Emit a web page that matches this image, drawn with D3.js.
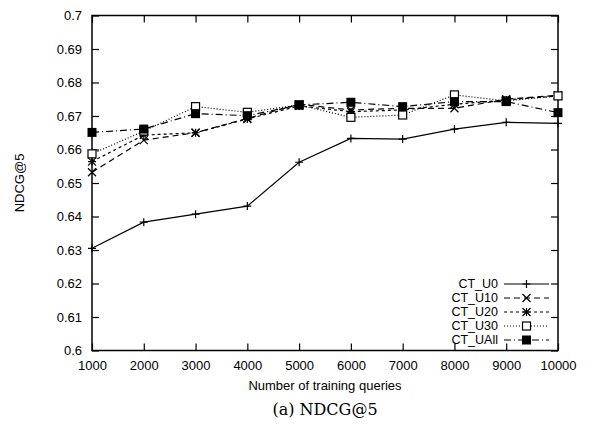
<!DOCTYPE html>
<html>
<head>
<meta charset="utf-8">
<script src="https://cdn.jsdelivr.net/npm/d3@7/dist/d3.min.js"></script>
<style>
  body { margin: 0; background: #fff; }
  text { font-family: "Liberation Sans", Arial, sans-serif; fill: #000; }
</style>
</head>
<body>
<svg id="chart" width="613" height="432"></svg>
<script>
const queries = [1000, 2000, 3000, 4000, 5000, 6000, 7000, 8000, 9000, 10000];
const ctU0   = [0.6305, 0.6383, 0.6407, 0.6431, 0.6562, 0.6633, 0.6631, 0.6661, 0.6681, 0.6678];
const ctU10  = [0.6532, 0.6628, 0.6650, 0.6693, 0.6735, 0.6718, 0.6723, 0.6723, 0.6750, 0.6762];
const ctU20  = [0.6564, 0.6643, 0.6650, 0.6691, 0.6730, 0.6713, 0.6718, 0.6735, 0.6748, 0.6760];
const ctU30  = [0.6587, 0.6655, 0.6728, 0.6711, 0.6733, 0.6696, 0.6703, 0.6763, 0.6745, 0.6760];
const ctUAll = [0.6651, 0.6661, 0.6707, 0.6701, 0.6733, 0.6741, 0.6728, 0.6743, 0.6743, 0.6710];
const yTicks = [0.6, 0.61, 0.62, 0.63, 0.64, 0.65, 0.66, 0.67, 0.68, 0.69, 0.7];

const series = [
  {name: "CT_U0",   values: ctU0,   dash: null,      marker: "plus"},
  {name: "CT_U10",  values: ctU10,  dash: "6,4",     marker: "cross"},
  {name: "CT_U20",  values: ctU20,  dash: "3,3",     marker: "star"},
  {name: "CT_U30",  values: ctU30,  dash: "1,2",     marker: "box"},
  {name: "CT_UAll", values: ctUAll, dash: "7,3,1,3", marker: "fbox"}
];

const plotL = 92, plotR = 558, plotT = 15.5, plotB = 350.5;
const svg = d3.select("#chart");

const x = d3.scaleLinear().domain([1000, 10000]).range([plotL, plotR]);
const y = d3.scaleLinear().domain([0.6, 0.7]).range([plotB, plotT]);

// ticks on all four sides, pointing inward
svg.append("g").attr("transform", `translate(0,${plotB})`)
  .call(d3.axisBottom(x).tickValues(queries).tickSize(-7).tickPadding(10).tickFormat(d3.format("d")));
svg.append("g").attr("transform", `translate(0,${plotT})`)
  .call(d3.axisTop(x).tickValues(queries).tickSize(-7).tickFormat(""));
svg.append("g").attr("transform", `translate(${plotL},0)`)
  .call(d3.axisLeft(y).tickValues(yTicks).tickSize(-7).tickPadding(10).tickFormat(d => String(+d.toFixed(2))));
svg.append("g").attr("transform", `translate(${plotR},0)`)
  .call(d3.axisRight(y).tickValues(yTicks).tickSize(-7).tickFormat(""));

svg.selectAll(".domain").remove();
svg.selectAll(".tick line").attr("stroke", "#000").attr("stroke-width", 1.2);
svg.selectAll(".tick text").style("font-size", "13px").attr("fill", "#000");

svg.append("rect")
  .attr("x", plotL).attr("y", plotT)
  .attr("width", plotR - plotL).attr("height", plotB - plotT)
  .attr("fill", "none").attr("stroke", "#000").attr("stroke-width", 1.5);

function drawMarker(g, kind, cx, cy) {
  const s = 4;
  if (kind === "plus" || kind === "star") {
    g.append("path").attr("d", `M${cx - s},${cy}H${cx + s}M${cx},${cy - s}V${cy + s}`)
      .attr("stroke", "#000").attr("stroke-width", 1.2).attr("fill", "none");
  }
  if (kind === "cross" || kind === "star") {
    g.append("path").attr("d", `M${cx - s},${cy - s}L${cx + s},${cy + s}M${cx - s},${cy + s}L${cx + s},${cy - s}`)
      .attr("stroke", "#000").attr("stroke-width", 1.2).attr("fill", "none");
  }
  if (kind === "box") {
    g.append("rect").attr("x", cx - 4).attr("y", cy - 4).attr("width", 8).attr("height", 8)
      .attr("fill", "#fff").attr("stroke", "#000").attr("stroke-width", 1.2);
  }
  if (kind === "fbox") {
    g.append("rect").attr("x", cx - 4.5).attr("y", cy - 4.5).attr("width", 9).attr("height", 9)
      .attr("fill", "#000");
  }
}

const line = d3.line().x((d, i) => x(queries[i])).y(d => y(d));

series.forEach(s => {
  const g = svg.append("g");
  g.append("path").datum(s.values)
    .attr("d", line)
    .attr("fill", "none").attr("stroke", "#000").attr("stroke-width", 1.2)
    .attr("stroke-dasharray", s.dash);
  s.values.forEach((v, i) => drawMarker(g, s.marker, x(queries[i]), y(v)));
});

// legend
const legend = svg.append("g");
series.forEach((s, i) => {
  const ly = 284 + i * 14;
  legend.append("text")
    .attr("x", 498).attr("y", ly).attr("dy", "0.35em")
    .attr("text-anchor", "end").style("font-size", "12.5px")
    .text(s.name);
  legend.append("line")
    .attr("x1", 504).attr("x2", 549).attr("y1", ly).attr("y2", ly)
    .attr("stroke", "#000").attr("stroke-width", 1.2)
    .attr("stroke-dasharray", s.dash);
  drawMarker(legend, s.marker, 526.5, ly);
});

svg.append("text")
  .attr("x", (plotL + plotR) / 2).attr("y", 390)
  .attr("text-anchor", "middle").style("font-size", "13px")
  .text("Number of training queries");

svg.append("text")
  .attr("transform", `translate(24,${(plotT + plotB) / 2}) rotate(-90)`)
  .attr("text-anchor", "middle").style("font-size", "13px")
  .text("NDCG@5");

svg.append("text")
  .attr("x", (plotL + plotR) / 2).attr("y", 415)
  .attr("text-anchor", "middle")
  .style("font-family", "'DejaVu Serif', 'Liberation Serif', serif").style("font-size", "16px")
  .text("(a) NDCG@5");
</script>
</body>
</html>
